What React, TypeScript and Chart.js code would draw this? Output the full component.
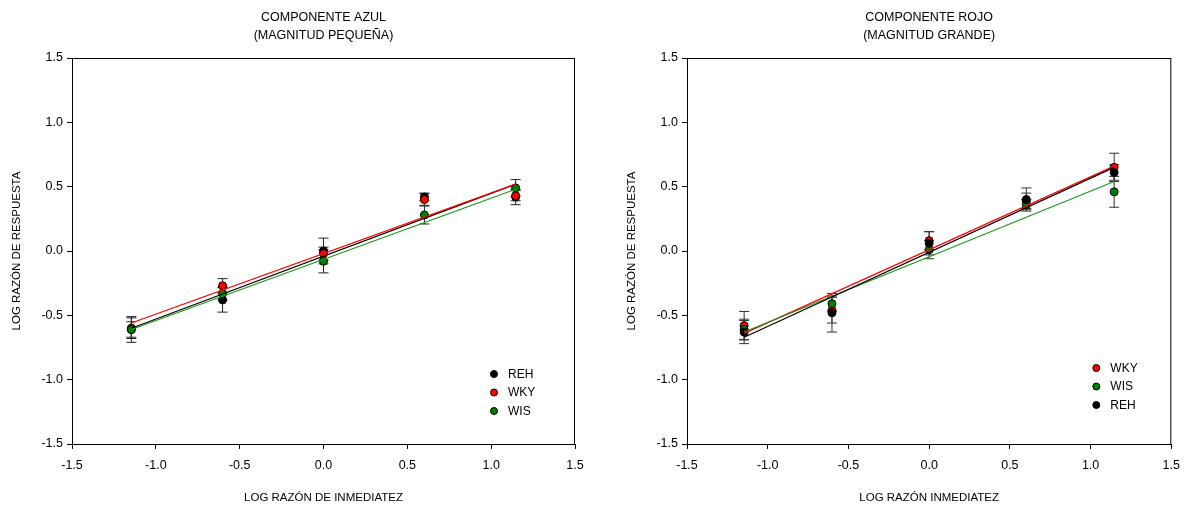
import React, { useEffect, useRef } from 'react';
import { Chart, registerables } from 'chart.js';

Chart.register(...registerables);

const FONT = "'Liberation Sans', Arial, Helvetica, sans-serif";

// ---------- data ----------
const xLevels = [-1.146, -0.602, 0, 0.602, 1.146];
const axisTicks = [-1.5, -1.0, -0.5, 0.0, 0.5, 1.0, 1.5];
const fitX = [-1.146, 1.146];

// COMPONENTE AZUL (MAGNITUD PEQUEÑA)
const azulREH = [-0.61, -0.38, 0.0, 0.42, 0.42];
const azulREHErr = [0.06, 0.095, 0.1, 0.03, 0.06];
const azulWKY = [-0.6, -0.27, -0.02, 0.4, 0.43];
const azulWKYErr = [0.08, 0.055, 0.05, 0.045, 0.04];
const azulWIS = [-0.61, -0.33, -0.08, 0.28, 0.49];
const azulWISErr = [0.1, 0.05, 0.09, 0.07, 0.065];
const azulFitREH = [-0.6, 0.52];
const azulFitWKY = [-0.56, 0.52];
const azulFitWIS = [-0.61, 0.48];

// COMPONENTE ROJO (MAGNITUD GRANDE)
const rojoWKY = [-0.58, -0.46, 0.08, 0.39, 0.65];
const rojoWKYErr = [0.11, 0.1, 0.07, 0.06, 0.11];
const rojoWIS = [-0.61, -0.41, 0.01, 0.36, 0.46];
const rojoWISErr = [0.08, 0.06, 0.07, 0.04, 0.12];
const rojoREH = [-0.63, -0.48, 0.06, 0.4, 0.61];
const rojoREHErr = [0.09, 0.15, 0.09, 0.09, 0.06];
const rojoFitWKY = [-0.64, 0.66];
const rojoFitWIS = [-0.63, 0.54];
const rojoFitREH = [-0.67, 0.65];

const RED = '#ff0000';
const GREEN = '#008000';
const GREEN_LINE = '#1a991a';
const BLACK = '#000000';

type Series = {
  label: string;
  fill: string;
  line: string;
  values: number[];
  errors: number[];
  fit: number[];
};

const azulSeries: Series[] = [
  { label: 'REH', fill: BLACK, line: BLACK, values: azulREH, errors: azulREHErr, fit: azulFitREH },
  { label: 'WKY', fill: RED, line: RED, values: azulWKY, errors: azulWKYErr, fit: azulFitWKY },
  { label: 'WIS', fill: GREEN, line: GREEN_LINE, values: azulWIS, errors: azulWISErr, fit: azulFitWIS },
];

const rojoSeries: Series[] = [
  { label: 'WKY', fill: RED, line: RED, values: rojoWKY, errors: rojoWKYErr, fit: rojoFitWKY },
  { label: 'WIS', fill: GREEN, line: GREEN_LINE, values: rojoWIS, errors: rojoWISErr, fit: rojoFitWIS },
  { label: 'REH', fill: BLACK, line: BLACK, values: rojoREH, errors: rojoREHErr, fit: rojoFitREH },
];

type PanelProps = {
  left: number;
  width: number;
  height: number;
  axisWidth: number;
  rightPad: number;
  yTitlePad: number;
  title: string[];
  xTitle: string;
  yTitle: string;
  series: Series[];
  legendDx: number;
  legendDy: number;
  legendGap: number;
  errorColor: string;
};

function Panel(p: PanelProps) {
  const ref = useRef<HTMLCanvasElement | null>(null);

  useEffect(() => {
    const canvas = ref.current;
    if (!canvas) return;
    const n = p.series.length;

    const datasets: any[] = [];
    p.series.forEach((s, i) => {
      datasets.push({
        type: 'line',
        label: s.label + ' fit',
        data: fitX.map((x, j) => ({ x, y: s.fit[j] })),
        borderColor: s.line,
        borderWidth: 1.2,
        pointRadius: 0,
        fill: false,
        showLine: true,
        order: n - i,
      });
    });
    p.series.forEach((s, i) => {
      datasets.push({
        type: 'scatter',
        label: s.label,
        data: xLevels.map((x, j) => ({ x, y: s.values[j] })),
        errors: s.errors,
        backgroundColor: s.fill,
        borderColor: '#000',
        borderWidth: 1,
        pointRadius: 4,
        pointHoverRadius: 4,
        order: 10 + (n - i),
      });
    });

    const errorBars = {
      id: 'errorBars',
      beforeDatasetsDraw(chart: any) {
        const { ctx } = chart;
        const xs = chart.scales.x;
        const ys = chart.scales.y;
        ctx.save();
        ctx.strokeStyle = p.errorColor;
        ctx.lineWidth = 1;
        chart.data.datasets.forEach((ds: any) => {
          if (!ds.errors) return;
          ds.data.forEach((pt: any, j: number) => {
            const e = ds.errors[j];
            const px = xs.getPixelForValue(pt.x);
            const t = ys.getPixelForValue(pt.y + e);
            const b = ys.getPixelForValue(pt.y - e);
            ctx.beginPath();
            ctx.moveTo(px, t);
            ctx.lineTo(px, b);
            ctx.moveTo(px - 5, t);
            ctx.lineTo(px + 5, t);
            ctx.moveTo(px - 5, b);
            ctx.lineTo(px + 5, b);
            ctx.stroke();
          });
        });
        ctx.restore();
      },
    };

    const frame = {
      id: 'frame',
      beforeDatasetsDraw(chart: any) {
        const { ctx, chartArea } = chart;
        ctx.save();
        ctx.strokeStyle = '#000';
        ctx.lineWidth = 1;
        ctx.beginPath();
        ctx.moveTo(chartArea.left, chartArea.top + 0.5);
        ctx.lineTo(chartArea.right, chartArea.top + 0.5);
        ctx.moveTo(chartArea.right - 0.5, chartArea.top);
        ctx.lineTo(chartArea.right - 0.5, chartArea.bottom);
        ctx.stroke();
        ctx.restore();
      },
    };

    const legend = {
      id: 'insideLegend',
      afterDraw(chart: any) {
        const { ctx, chartArea } = chart;
        ctx.save();
        ctx.font = `12px ${FONT}`;
        ctx.textBaseline = 'middle';
        ctx.textAlign = 'left';
        p.series.forEach((s, i) => {
          const cx = chartArea.right + p.legendDx;
          const cy = chartArea.bottom + p.legendDy + i * 18.5;
          ctx.beginPath();
          ctx.arc(cx, cy, 3.5, 0, Math.PI * 2);
          ctx.fillStyle = s.fill;
          ctx.fill();
          ctx.lineWidth = 1;
          ctx.strokeStyle = '#000';
          ctx.stroke();
          ctx.fillStyle = '#000';
          ctx.fillText(s.label, cx + p.legendGap, cy + 0.5);
        });
        ctx.restore();
      },
    };

    const fmt = (v: any) => Number(v).toFixed(1);

    const chart = new Chart(canvas, {
      type: 'scatter',
      data: { datasets },
      plugins: [errorBars, frame, legend],
      options: {
        animation: false,
        responsive: false,
        events: [],
        layout: { padding: { left: 0, right: p.rightPad, top: 0, bottom: 0 } },
        plugins: {
          legend: { display: false },
          tooltip: { enabled: false },
          title: {
            display: true,
            text: p.title,
            color: '#000',
            fullSize: false,
            font: { family: FONT, size: 12.5, weight: 'normal', lineHeight: 1.44 },
            padding: { top: 9, bottom: 13 },
          },
        },
        scales: {
          x: {
            type: 'linear',
            min: -1.5,
            max: 1.5,
            afterBuildTicks: (s: any) => {
              s.ticks = axisTicks.map((v) => ({ value: v }));
            },
            afterFit: (s: any) => {
              s.height = p.height - 444;
            },
            grid: { display: true, drawOnChartArea: false, drawTicks: true, tickLength: 5, color: '#000', lineWidth: 1 },
            border: { display: true, color: '#000', width: 1 },
            ticks: {
              color: '#000',
              font: { family: FONT, size: 12.5 },
              padding: 9,
              maxRotation: 0,
              autoSkip: false,
              callback: fmt,
            },
            title: {
              display: true,
              text: p.xTitle,
              color: '#000',
              font: { family: FONT, size: 11.5, lineHeight: 1.2 },
              padding: { top: 4, bottom: 6 },
            },
          },
          y: {
            type: 'linear',
            min: -1.5,
            max: 1.5,
            afterBuildTicks: (s: any) => {
              s.ticks = axisTicks.map((v) => ({ value: v }));
            },
            afterFit: (s: any) => {
              s.width = p.axisWidth;
            },
            grid: { display: true, drawOnChartArea: false, drawTicks: true, tickLength: 5, color: '#000', lineWidth: 1 },
            border: { display: true, color: '#000', width: 1 },
            ticks: {
              color: '#000',
              font: { family: FONT, size: 12.5 },
              padding: 4,
              autoSkip: false,
              callback: fmt,
            },
            title: {
              display: true,
              text: p.yTitle,
              color: '#000',
              font: { family: FONT, size: 11.5, lineHeight: 1.2 },
              padding: { top: p.yTitlePad, bottom: 4 },
            },
          },
        },
      } as any,
    });

    return () => chart.destroy();
  }, []);

  return (
    <canvas
      ref={ref}
      width={p.width}
      height={p.height}
      style={{ position: 'absolute', left: p.left, top: 0, width: p.width, height: p.height }}
    />
  );
}

export default function App() {
  return (
    <div style={{ position: 'absolute', left: 0, top: 0, width: 1189, height: 511, background: '#fff', overflow: 'hidden' }}>
      <Panel
        left={0}
        width={594}
        height={511}
        axisWidth={72}
        rightPad={19}
        yTitlePad={10}
        title={['COMPONENTE AZUL', '(MAGNITUD PEQUEÑA)']}
        xTitle="LOG RAZÓN DE INMEDIATEZ"
        yTitle="LOG RAZÓN DE RESPUESTA"
        series={azulSeries}
        legendDx={-81}
        legendDy={-70}
        legendGap={14}
        errorColor="#222"
      />
      <Panel
        left={594}
        width={595}
        height={511}
        axisWidth={93}
        rightPad={15}
        yTitlePad={31}
        title={['COMPONENTE ROJO', '(MAGNITUD GRANDE)']}
        xTitle="LOG RAZÓN INMEDIATEZ"
        yTitle="LOG RAZÓN DE RESPUESTA"
        series={rojoSeries}
        legendDx={-75}
        legendDy={-76}
        legendGap={14}
        errorColor="#333"
      />
    </div>
  );
}
